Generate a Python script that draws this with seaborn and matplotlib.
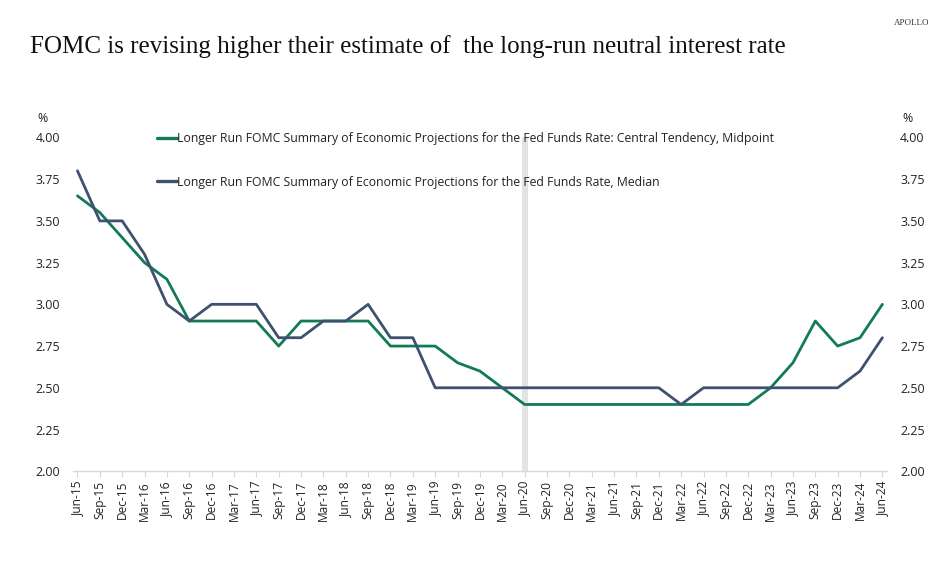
import matplotlib
matplotlib.use("Agg")
import matplotlib.pyplot as plt
import seaborn as sns
import pandas as pd

dates = ["Jun-15","Sep-15","Dec-15","Mar-16","Jun-16","Sep-16","Dec-16","Mar-17","Jun-17",
         "Sep-17","Dec-17","Mar-18","Jun-18","Sep-18","Dec-18","Mar-19","Jun-19","Sep-19",
         "Dec-19","Mar-20","Jun-20","Sep-20","Dec-20","Mar-21","Jun-21","Sep-21","Dec-21",
         "Mar-22","Jun-22","Sep-22","Dec-22","Mar-23","Jun-23","Sep-23","Dec-23","Mar-24","Jun-24"]
central_tendency = [3.65,3.55,3.40,3.25,3.15,2.90,2.90,2.90,2.90,
                    2.75,2.90,2.90,2.90,2.90,2.75,2.75,2.75,2.65,
                    2.60,2.50,2.40,2.40,2.40,2.40,2.40,2.40,2.40,
                    2.40,2.40,2.40,2.40,2.50,2.65,2.90,2.75,2.80,3.00]
median = [3.80,3.50,3.50,3.30,3.00,2.90,3.00,3.00,3.00,
          2.80,2.80,2.90,2.90,3.00,2.80,2.80,2.50,2.50,
          2.50,2.50,2.50,2.50,2.50,2.50,2.50,2.50,2.50,
          2.40,2.50,2.50,2.50,2.50,2.50,2.50,2.50,2.60,2.80]
label_ct = "Longer Run FOMC Summary of Economic Projections for the Fed Funds Rate: Central Tendency, Midpoint"
label_md = "Longer Run FOMC Summary of Economic Projections for the Fed Funds Rate, Median"
yticks = [2.00, 2.25, 2.50, 2.75, 3.00, 3.25, 3.50, 3.75, 4.00]
highlight = "Jun-20"

GREEN = "#127a58"
NAVY = "#3e5171"
TXT = "#222222"

sns.set_theme(style="white")
plt.rcParams["font.family"] = ["Open Sans", "DejaVu Sans"]

df = pd.DataFrame({
    "x": list(range(len(dates))) * 2,
    "value": central_tendency + median,
    "series": [label_ct] * len(dates) + [label_md] * len(dates),
})

fig = plt.figure(figsize=(9.53, 5.61), dpi=100)
ax = fig.add_axes([0.0766, 0.16, 0.854, 0.595])

hi = dates.index(highlight)
ax.axvspan(hi - 0.14, hi + 0.14, color="#e3e3e3", lw=0, zorder=0)

sns.lineplot(data=df, x="x", y="value", hue="series",
             palette={label_ct: GREEN, label_md: NAVY},
             linewidth=2.0, ax=ax, legend=True, zorder=3)

ax.set_xlim(-0.2, len(dates) - 1 + 0.2)
ax.set_ylim(2.0, 4.0)
ax.set_xticks(range(len(dates)))
ax.set_xticklabels(dates, rotation=90, fontsize=8.6, color=TXT)
ax.set_yticks(yticks)
ax.set_yticklabels([f"{v:.2f}" for v in yticks], fontsize=8.9, color=TXT)
ax.set_xlabel("")
ax.set_ylabel("")
for s in ["top", "right", "left"]:
    ax.spines[s].set_visible(False)
ax.spines["bottom"].set_color("#d9d9d9")
ax.spines["bottom"].set_linewidth(1.0)
ax.tick_params(axis="x", length=4, color="#d9d9d9", width=0.8, pad=3, bottom=True)
ax.tick_params(axis="y", length=0, pad=9)

ax2 = ax.twinx()
ax2.set_ylim(2.0, 4.0)
ax2.set_yticks(yticks)
ax2.set_yticklabels([f"{v:.2f}" for v in yticks], fontsize=8.9, color=TXT)
ax2.tick_params(axis="y", length=0, pad=9.5)
for s in ["top", "right", "left", "bottom"]:
    ax2.spines[s].set_visible(False)

leg = ax.legend(loc="upper left", bbox_to_anchor=(0.097, 1.031), frameon=False,
                fontsize=8.85, handlelength=1.65, handletextpad=0.0,
                labelspacing=2.5, borderaxespad=0)
for t in leg.get_texts():
    t.set_color(TXT)
for l in leg.get_lines():
    l.set_linewidth(2.4)

fig.text(0.039, 0.783, "%", fontsize=8.9, color=TXT)
fig.text(0.947, 0.783, "%", fontsize=8.9, color=TXT)

fig.text(0.031, 0.905, "FOMC is revising higher their estimate of  the long-run neutral interest rate",
         fontsize=18.0, family=["Liberation Serif", "DejaVu Serif"], color="#111111", va="baseline")
fig.text(0.975, 0.955, "APOLLO", fontsize=6.5, family=["Liberation Serif", "DejaVu Serif"],
         color="#333333", ha="right", va="baseline")

fig.savefig("out.png", dpi=100, facecolor="white")
